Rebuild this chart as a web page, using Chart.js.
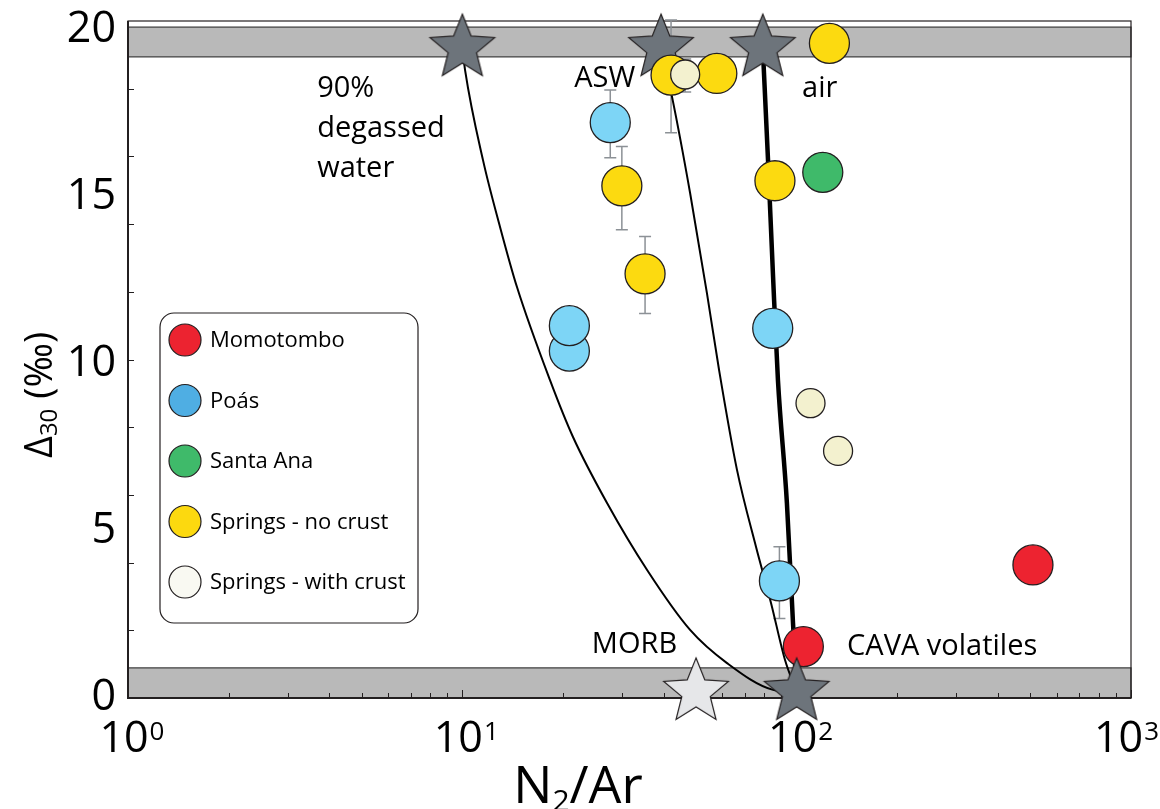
<!DOCTYPE html>
<html>
<head>
<meta charset="utf-8">
<script src="https://cdn.jsdelivr.net/npm/chart.js@4.4.0/dist/chart.umd.min.js"></script>
<style>
html, body { margin: 0; padding: 0; background: #fff; }
#wrap { width: 1160px; height: 809px; }
</style>
</head>
<body>
<div id="wrap"><canvas id="chart" width="1160" height="809"></canvas></div>
<script>
// sample values (N2/Ar, delta30)
const momotomboX = [509, 104.7];
const momotomboY = [3.93, 1.52];
const poasX = [27.7, 20.9, 20.9, 84.8, 88.8];
const poasY = [17.0, 10.25, 11.0, 10.92, 3.46];
const santaAnaX = [119.7];
const santaAnaY = [15.53];
const noCrustX = [125.3, 42.1, 57.7, 30.0, 35.2, 86.1];
const noCrustY = [19.34, 18.4, 18.45, 15.13, 12.53, 15.28];
const crustX = [46.4, 110, 133];
const crustY = [18.42, 8.71, 7.3];

// end members
const topStarX = [10, 39.3, 79.2];
const topStarY = [19.2, 19.2, 19.2];
const morbX = [50];
const morbY = [0.18];
const cavaX = [100];
const cavaY = [0.18];

// mixing curves
const degassedX = [10, 10.19, 11.53, 12.97, 14.57, 18.29, 21.43, 27.09, 35.7, 48.0, 61.9, 85.0, 100];
const degassedY = [19.2, 18.55, 15.89, 13.91, 12.14, 9.39, 7.71, 5.76, 3.78, 2.01, 1.03, 0.24, 0.18];
const aswX = [39.3, 42.4, 48.0, 53.9, 58.6, 66.3, 75.6, 83.8, 92.3, 100];
const aswY = [19.2, 17.75, 14.92, 11.96, 9.69, 6.74, 4.46, 2.81, 1.12, 0.18];
const airX = [79.2, 82.1, 85.0, 87.9, 93.5, 97.5, 100];
const airY = [19.2, 15.89, 12.44, 9.39, 5.76, 2.22, 0.18];

// error bars
const errX = [27.7, 30.0, 35.2, 42.1, 46.4, 88.8];
const errLow = [15.96, 13.83, 11.36, 16.7, 17.9, 2.35];
const errHigh = [17.96, 16.29, 13.63, 20.03, 18.88, 4.47];

// gray bands
const bandLow = [0, 18.94];
const bandHigh = [0.89, 19.82];

// axes
const xTicks = [1, 10, 100, 1000];
const xTickExp = ['0', '1', '2', '3'];
const yTicks = [0, 5, 10, 15, 20];
const yMinor = [2, 4, 6, 8, 10, 12, 14, 16, 18];

const legendLabels = ['Momotombo', 'Poás', 'Santa Ana', 'Springs - no crust', 'Springs - with crust'];
const legendColors = ['#ec2330', '#4faee3', '#3fba6a', '#fcd90f', '#f9f9f2'];

const notes = [
    { lines: ['90%', 'degassed', 'water'], x: 3.68, y: 17.75 },
    { lines: ['ASW'], x: 21.6, y: 18.05 },
    { lines: ['air'], x: 103.8, y: 17.75 },
    { lines: ['MORB'], x: 24.4, y: 1.33 },
    { lines: ['CAVA volatiles'], x: 141.5, y: 1.27 },
];

const FONT = "'Open Sans', 'Noto Sans', sans-serif";

function pts(xs, ys) {
    return xs.map((v, i) => ({ x: v, y: ys[i] }));
}

function makeStar(fill, R) {
    const c = document.createElement('canvas');
    const s = Math.ceil(R * 2 + 4);
    c.width = s;
    c.height = s;
    const g = c.getContext('2d');
    g.translate(s / 2, s / 2);
    g.beginPath();
    for (let i = 0; i < 10; i++) {
        const r = i % 2 ? R * 0.44 : R;
        const a = -Math.PI / 2 + i * Math.PI / 5;
        g.lineTo(r * Math.cos(a), r * Math.sin(a));
    }
    g.closePath();
    g.fillStyle = fill;
    g.fill();
    g.lineWidth = 1.2;
    g.strokeStyle = '#231f20';
    g.stroke();
    return c;
}

const darkStar = makeStar('#6d747b', 34);
const lightStar = makeStar('#e6e7e9', 34);

function circles(label, xs, ys, color, r, order) {
    return {
        label: label,
        data: pts(xs, ys),
        backgroundColor: color,
        borderColor: '#231f20',
        borderWidth: 1.3,
        pointRadius: r,
        pointHoverRadius: r,
        order: order,
        clip: false,
    };
}

function curve(xs, ys, width) {
    return {
        data: pts(xs, ys),
        showLine: true,
        borderColor: '#000',
        borderWidth: width,
        pointRadius: 0,
        cubicInterpolationMode: 'monotone',
        fill: false,
        order: 8,
    };
}

function stars(xs, ys, img, order) {
    return {
        data: pts(xs, ys),
        pointStyle: img,
        pointRadius: 34,
        order: order,
        clip: false,
    };
}

const decor = {
    id: 'decor',
    beforeDatasetsDraw(chart) {
        const { ctx, chartArea: a, scales: { x, y } } = chart;
        ctx.save();
        // bands
        ctx.fillStyle = '#b9b9b9';
        ctx.strokeStyle = '#3a3a3a';
        ctx.lineWidth = 1.2;
        bandLow.forEach((lo, i) => {
            const top = y.getPixelForValue(bandHigh[i]);
            const bot = y.getPixelForValue(lo);
            ctx.fillRect(a.left, top, a.right - a.left, bot - top);
            ctx.strokeRect(a.left, top, a.right - a.left, bot - top);
        });
        // frame
        ctx.strokeStyle = '#231f20';
        ctx.lineWidth = 1.2;
        ctx.strokeRect(a.left, a.top, a.right - a.left, a.bottom - a.top);
        ctx.lineWidth = 2;
        ctx.beginPath();
        ctx.moveTo(a.left, a.top);
        ctx.lineTo(a.left, a.bottom);
        ctx.lineTo(a.right, a.bottom);
        ctx.stroke();
        // minor ticks
        ctx.lineWidth = 1;
        ctx.beginPath();
        for (let k = 0; k < 3; k++) {
            for (let m = 2; m <= 10; m++) {
                const px = Math.round(x.getPixelForValue(m * Math.pow(10, k))) + 0.5;
                const len = m === 10 ? 8 : 5;
                ctx.moveTo(px, a.bottom);
                ctx.lineTo(px, a.bottom - len);
            }
        }
        yMinor.forEach(v => {
            const py = Math.round(y.getPixelForValue(v)) + 0.5;
            ctx.moveTo(a.left, py);
            ctx.lineTo(a.left + 6, py);
        });
        ctx.stroke();
        // error bars
        ctx.strokeStyle = '#8c9196';
        ctx.lineWidth = 1.5;
        ctx.beginPath();
        errX.forEach((v, i) => {
            const px = x.getPixelForValue(v);
            const p1 = y.getPixelForValue(errLow[i]);
            const p2 = y.getPixelForValue(errHigh[i]);
            ctx.moveTo(px, p1);
            ctx.lineTo(px, p2);
            ctx.moveTo(px - 6, p1);
            ctx.lineTo(px + 6, p1);
            ctx.moveTo(px - 6, p2);
            ctx.lineTo(px + 6, p2);
        });
        ctx.stroke();
        ctx.restore();
    },
    afterDraw(chart) {
        const { ctx, chartArea: a, scales: { x, y } } = chart;
        ctx.save();
        ctx.fillStyle = '#000';
        // y tick labels
        ctx.font = '43px ' + FONT;
        ctx.textAlign = 'right';
        ctx.textBaseline = 'middle';
        yTicks.forEach(v => {
            ctx.fillText(String(v), a.left - 12, y.getPixelForValue(v) + v * 0.45);
        });
        // x tick labels, 10 with exponent
        ctx.textBaseline = 'alphabetic';
        ctx.textAlign = 'left';
        xTicks.forEach((v, i) => {
            ctx.font = '43px ' + FONT;
            const w = ctx.measureText('10').width;
            ctx.font = '26px ' + FONT;
            const we = ctx.measureText(xTickExp[i]).width;
            let left = x.getPixelForValue(v) - 4 - w / 2;
            left = Math.min(left, 1159 - w - we - 1);
            ctx.font = '43px ' + FONT;
            ctx.fillText('10', left, a.bottom + 54);
            ctx.font = '26px ' + FONT;
            ctx.fillText(xTickExp[i], left + w + 1, a.bottom + 42);
        });
        // x title N2/Ar
        const parts = [['N', 52, 0], ['2', 30, 8], ['/Ar', 52, 0]];
        let total = 0;
        parts.forEach(p => { ctx.font = p[1] + 'px ' + FONT; total += ctx.measureText(p[0]).width; });
        let tx = 578 - total / 2;
        parts.forEach(p => {
            ctx.font = p[1] + 'px ' + FONT;
            ctx.fillText(p[0], tx, 803 + p[2]);
            tx += ctx.measureText(p[0]).width;
        });
        // y title
        ctx.save();
        ctx.translate(52, 395);
        ctx.rotate(-Math.PI / 2);
        const yparts = [['Δ', 38, 0], ['30', 24, 5], [' (‰)', 38, 0]];
        total = 0;
        yparts.forEach(p => { ctx.font = p[1] + 'px ' + FONT; total += ctx.measureText(p[0]).width; });
        tx = -total / 2;
        yparts.forEach(p => {
            ctx.font = p[1] + 'px ' + FONT;
            ctx.fillText(p[0], tx, p[2]);
            tx += ctx.measureText(p[0]).width;
        });
        ctx.restore();
        // notes
        ctx.font = '29px ' + FONT;
        notes.forEach(n => {
            const px = x.getPixelForValue(n.x);
            const py = y.getPixelForValue(n.y);
            n.lines.forEach((t, j) => ctx.fillText(t, px, py + j * 40));
        });
        // legend box
        const bx = 160, by = 313, bw = 258, bh = 310, br = 14;
        ctx.beginPath();
        ctx.moveTo(bx + br, by);
        ctx.arcTo(bx + bw, by, bx + bw, by + bh, br);
        ctx.arcTo(bx + bw, by + bh, bx, by + bh, br);
        ctx.arcTo(bx, by + bh, bx, by, br);
        ctx.arcTo(bx, by, bx + bw, by, br);
        ctx.closePath();
        ctx.fillStyle = '#fff';
        ctx.fill();
        ctx.strokeStyle = '#231f20';
        ctx.lineWidth = 1.2;
        ctx.stroke();
        ctx.font = '22px ' + FONT;
        ctx.textBaseline = 'middle';
        legendLabels.forEach((t, i) => {
            const cy = by + 27 + i * 60.5;
            ctx.beginPath();
            ctx.arc(185, cy, 16, 0, Math.PI * 2);
            ctx.fillStyle = legendColors[i];
            ctx.fill();
            ctx.stroke();
            ctx.fillStyle = '#000';
            ctx.fillText(t, 210, cy + 1);
        });
        ctx.restore();
    }
};

new Chart(document.getElementById('chart').getContext('2d'), {
    type: 'scatter',
    data: {
        datasets: [
            curve(degassedX, degassedY, 2),
            curve(aswX, aswY, 2),
            curve(airX, airY, 4.5),
            stars(topStarX, topStarY, darkStar, 7),
            circles('Momotombo', momotomboX, momotomboY, '#ed2330', 20, 5),
            circles('Poás', poasX, poasY, '#7dd5f6', 20, 4),
            circles('Santa Ana', santaAnaX, santaAnaY, '#3fba6a', 20, 3),
            circles('Springs - no crust', noCrustX, noCrustY, '#fcda10', 20, 2),
            circles('Springs - with crust', crustX, crustY, '#f3f1cf', 14.5, 1),
            stars(morbX, morbY, lightStar, 0),
            stars(cavaX, cavaY, darkStar, 0),
        ]
    },
    options: {
        responsive: false,
        animation: false,
        events: [],
        layout: { autoPadding: false, padding: { top: 21, right: 29, left: 0, bottom: 0 } },
        plugins: { legend: { display: false }, tooltip: { enabled: false } },
        scales: {
            x: {
                type: 'logarithmic',
                min: 1,
                max: 1000,
                grid: { display: false },
                border: { display: false },
                ticks: { display: false },
                afterFit: (scale) => { scale.height = 111; },
            },
            y: {
                type: 'linear',
                min: 0,
                max: 20,
                grid: { display: false },
                border: { display: false },
                ticks: { display: false },
                afterFit: (scale) => { scale.width = 128; },
            },
        },
    },
    plugins: [decor],
});
</script>
</body>
</html>
